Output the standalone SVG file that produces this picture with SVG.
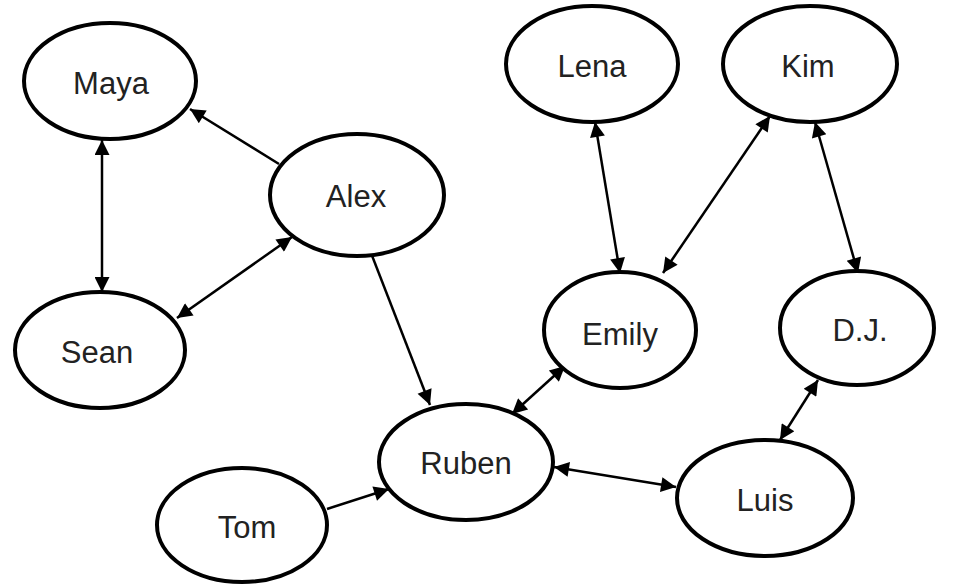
<svg xmlns="http://www.w3.org/2000/svg" width="963" height="585" viewBox="0 0 963 585">
<style>
.n ellipse{fill:#fff;stroke:#000;stroke-width:4}
.n text{font-family:"Liberation Sans",sans-serif;font-size:31px;fill:#222;text-anchor:middle;dominant-baseline:central}
#edges line{stroke:#000;stroke-width:2.5}
</style>
<defs>
<marker id="ah" viewBox="0 0 10 10" refX="10" refY="5" markerWidth="7.5" markerHeight="6" markerUnits="strokeWidth" orient="auto-start-reverse">
<path d="M0,0 L10,5 L0,10 z" fill="#000"/>
</marker>
</defs>
<rect width="963" height="585" fill="#fff"/>
<g id="edges">
<line x1="279" y1="164" x2="190" y2="109" marker-end="url(#ah)"/>
<line x1="102" y1="140" x2="102" y2="292" marker-start="url(#ah)" marker-end="url(#ah)"/>
<line x1="177" y1="318" x2="292" y2="237" marker-start="url(#ah)" marker-end="url(#ah)"/>
<line x1="371" y1="253" x2="430" y2="405" marker-end="url(#ah)"/>
<line x1="565" y1="366" x2="512" y2="414" marker-start="url(#ah)" marker-end="url(#ah)"/>
<line x1="327" y1="509" x2="389" y2="489" marker-end="url(#ah)"/>
<line x1="554" y1="467" x2="676" y2="487" marker-start="url(#ah)" marker-end="url(#ah)"/>
<line x1="595" y1="122" x2="620" y2="273" marker-start="url(#ah)" marker-end="url(#ah)"/>
<line x1="770" y1="116" x2="663" y2="273" marker-start="url(#ah)" marker-end="url(#ah)"/>
<line x1="815" y1="122" x2="858" y2="273" marker-start="url(#ah)" marker-end="url(#ah)"/>
<line x1="818" y1="380" x2="780" y2="440" marker-start="url(#ah)" marker-end="url(#ah)"/>
</g>
<g id="maya" class="n"><ellipse cx="110" cy="81" rx="86" ry="58"/><text x="111" y="83">Maya</text></g>
<g id="alex" class="n"><ellipse cx="357" cy="195" rx="87" ry="61"/><text x="356" y="196">Alex</text></g>
<g id="sean" class="n"><ellipse cx="100" cy="350" rx="85" ry="58"/><text x="97" y="352">Sean</text></g>
<g id="lena" class="n"><ellipse cx="592" cy="64" rx="86" ry="58"/><text x="592" y="66">Lena</text></g>
<g id="kim" class="n"><ellipse cx="810" cy="64" rx="87" ry="58"/><text x="808" y="66">Kim</text></g>
<g id="emily" class="n"><ellipse cx="620" cy="330" rx="76" ry="58"/><text x="620" y="334">Emily</text></g>
<g id="dj" class="n"><ellipse cx="857" cy="328" rx="77" ry="57"/><text x="860" y="330">D.J.</text></g>
<g id="ruben" class="n"><ellipse cx="466" cy="462" rx="87" ry="58"/><text x="466" y="463">Ruben</text></g>
<g id="luis" class="n"><ellipse cx="765" cy="498" rx="88" ry="58"/><text x="765" y="500">Luis</text></g>
<g id="tom" class="n"><ellipse cx="242" cy="525" rx="85" ry="57"/><text x="247" y="527">Tom</text></g>
</svg>
